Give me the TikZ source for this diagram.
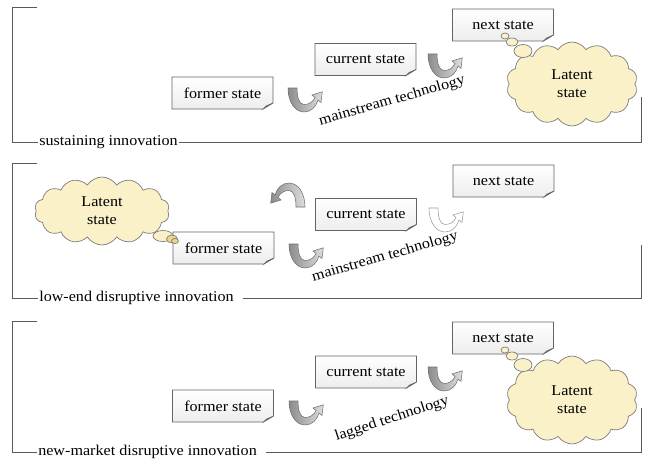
\documentclass[tikz,border=0pt]{standalone}
\usepackage{fontspec}
\setmainfont{Liberation Serif}[FakeStretch=1.08]
\usetikzlibrary{shapes.symbols,calc}
\definecolor{cloudfill}{RGB}{250,241,201}
\definecolor{cloudline}{RGB}{120,120,120}
\definecolor{brkline}{RGB}{90,90,90}
\definecolor{boxline}{RGB}{100,100,100}
\definecolor{arrdark}{RGB}{140,140,140}
\definecolor{arrlight}{RGB}{222,222,222}
\definecolor{arrline}{RGB}{110,110,110}
\definecolor{bubdark}{RGB}{236,214,140}
\tikzset{
  stnode/.style={minimum width=101*0.75pt, minimum height=32*0.75pt, inner sep=0pt},
  boxstyle/.style={draw=boxline, line width=0.5pt, top color=white, bottom color=gray!14},
  foldstyle/.style={draw=boxline, line width=0.4pt, fill=gray!45},
  brk/.style={draw=brkline, line width=0.6pt},
  cloudnode/.style={cloud, cloud puffs=14, cloud puff arc=115, draw=cloudline, line width=0.5pt, fill=cloudfill, align=center, inner sep=0pt},
  bubble/.style={draw=cloudline, line width=0.5pt, fill=cloudfill},
  grayarrow/.style={left color=arrdark, right color=arrlight, draw=arrline, line width=0.4pt},
  whitearrow/.style={fill=white, draw=arrline!70, line width=0.4pt},
  labelnode/.style={anchor=west, inner sep=0pt},
  uarrow/.pic={
    \path[pic actions] (0,0) .. controls (0,14) and (7,24) .. (16,24)
      .. controls (23,24) and (28,19) .. (30,12) -- (33,14.5) -- (34.3,3.8) -- (24,7) -- (27,9.5)
      .. controls (25,14) and (21,16.5) .. (16,16.5)
      .. controls (11,16.5) and (9,9) .. (9,0) -- cycle;
  }
}
\newcommand{\stbox}[4]{%
  \path[boxstyle] (#2-50.5,#3-16) -- (#2+50.5,#3-16) -- (#2+50.5,#3+10) -- (#2+40.5,#3+16) -- (#2-50.5,#3+16) -- cycle;
  \path[foldstyle] (#2+50.5,#3+10) -- (#2+43.5,#3+13) -- (#2+40.5,#3+16) -- cycle;
  \node[stnode] (#1) at (#2,#3) {#4};
}
\begin{document}
\begin{tikzpicture}[x=0.75pt,y=-0.75pt,font=\fontsize{11.2}{13.5}\selectfont]
\useasboundingbox (0,0) rectangle (645,460);

% ---------- panel 1: sustaining innovation ----------
\node[labelnode] (L1) at (39,142) {sustaining innovation};
\draw[brk] (37,7) -- (12,7) -- (12,142) -- ([xshift=-1pt]L1.west);
\draw[brk] ([xshift=1pt]L1.east) -- (641,142) -- (641,97);
\stbox{f1}{222.5}{93}{former state}
\stbox{c1}{365.5}{59.5}{current state}
\stbox{n1}{503}{25}{next state}
\pic[grayarrow] at (288,88) {uarrow};
\pic[grayarrow] at (428,54) {uarrow};
\node[rotate=16] (t1) at (392,101) {mainstream technology};
\node[cloudnode, minimum width=131*0.75pt, minimum height=84*0.75pt] (k1) at (572,84) {Latent\\state};
\draw[bubble] (523,51) ellipse [x radius=9, y radius=6.5];
\draw[bubble] (512,42) ellipse [x radius=6, y radius=4];
\draw[bubble] (505,36) ellipse [x radius=4, y radius=3];

% ---------- panel 2: low-end disruptive innovation ----------
\node[labelnode] (L2) at (39,298) {low-end disruptive innovation};
\draw[brk] (37,163) -- (12,163) -- (12,298) -- ([xshift=-1pt]L2.west);
\draw[brk] ([xshift=7pt]L2.east) -- (641,298) -- (641,245);
\node[cloudnode, minimum width=135*0.75pt, minimum height=68*0.75pt] (k2) at (102,211) {Latent\\state};
\stbox{f2}{223.5}{248}{former state}
\stbox{c2}{366}{214.5}{current state}
\stbox{n2}{503.5}{181}{next state}
\draw[bubble] (163,236) ellipse [x radius=10, y radius=5.5];
\draw[bubble, fill=bubdark] (172,239) ellipse [x radius=5.5, y radius=4];
\draw[bubble, fill=bubdark] (175,241) ellipse [x radius=3.5, y radius=2.5];
\pic[grayarrow] at (289,244) {uarrow};
\pic[grayarrow, rotate=180] at (305,207) {uarrow};
\pic[whitearrow] at (429,208) {uarrow};
\node[rotate=16] (t2) at (385,257) {mainstream technology};

% ---------- panel 3: new-market disruptive innovation ----------
\node[labelnode] (L3) at (38,452) {new-market disruptive innovation};
\draw[brk] (37,321) -- (12,321) -- (12,452) -- ([xshift=-1pt]L3.west);
\draw[brk] ([xshift=7pt]L3.east) -- (641,452) -- (641,408);
\stbox{f3}{223}{406}{former state}
\stbox{c3}{366}{372}{current state}
\stbox{n3}{503}{338}{next state}
\pic[grayarrow] at (289,401) {uarrow};
\pic[grayarrow] at (428,367) {uarrow};
\node[rotate=18] (t3) at (392,419) {lagged technology};
\node[cloudnode, minimum width=131*0.75pt, minimum height=88*0.75pt] (k3) at (572,400) {Latent\\state};
\draw[bubble] (523,365) ellipse [x radius=9, y radius=6.5];
\draw[bubble] (512,356) ellipse [x radius=6, y radius=4];
\draw[bubble] (505,350) ellipse [x radius=4, y radius=3];
\end{tikzpicture}
\end{document}
